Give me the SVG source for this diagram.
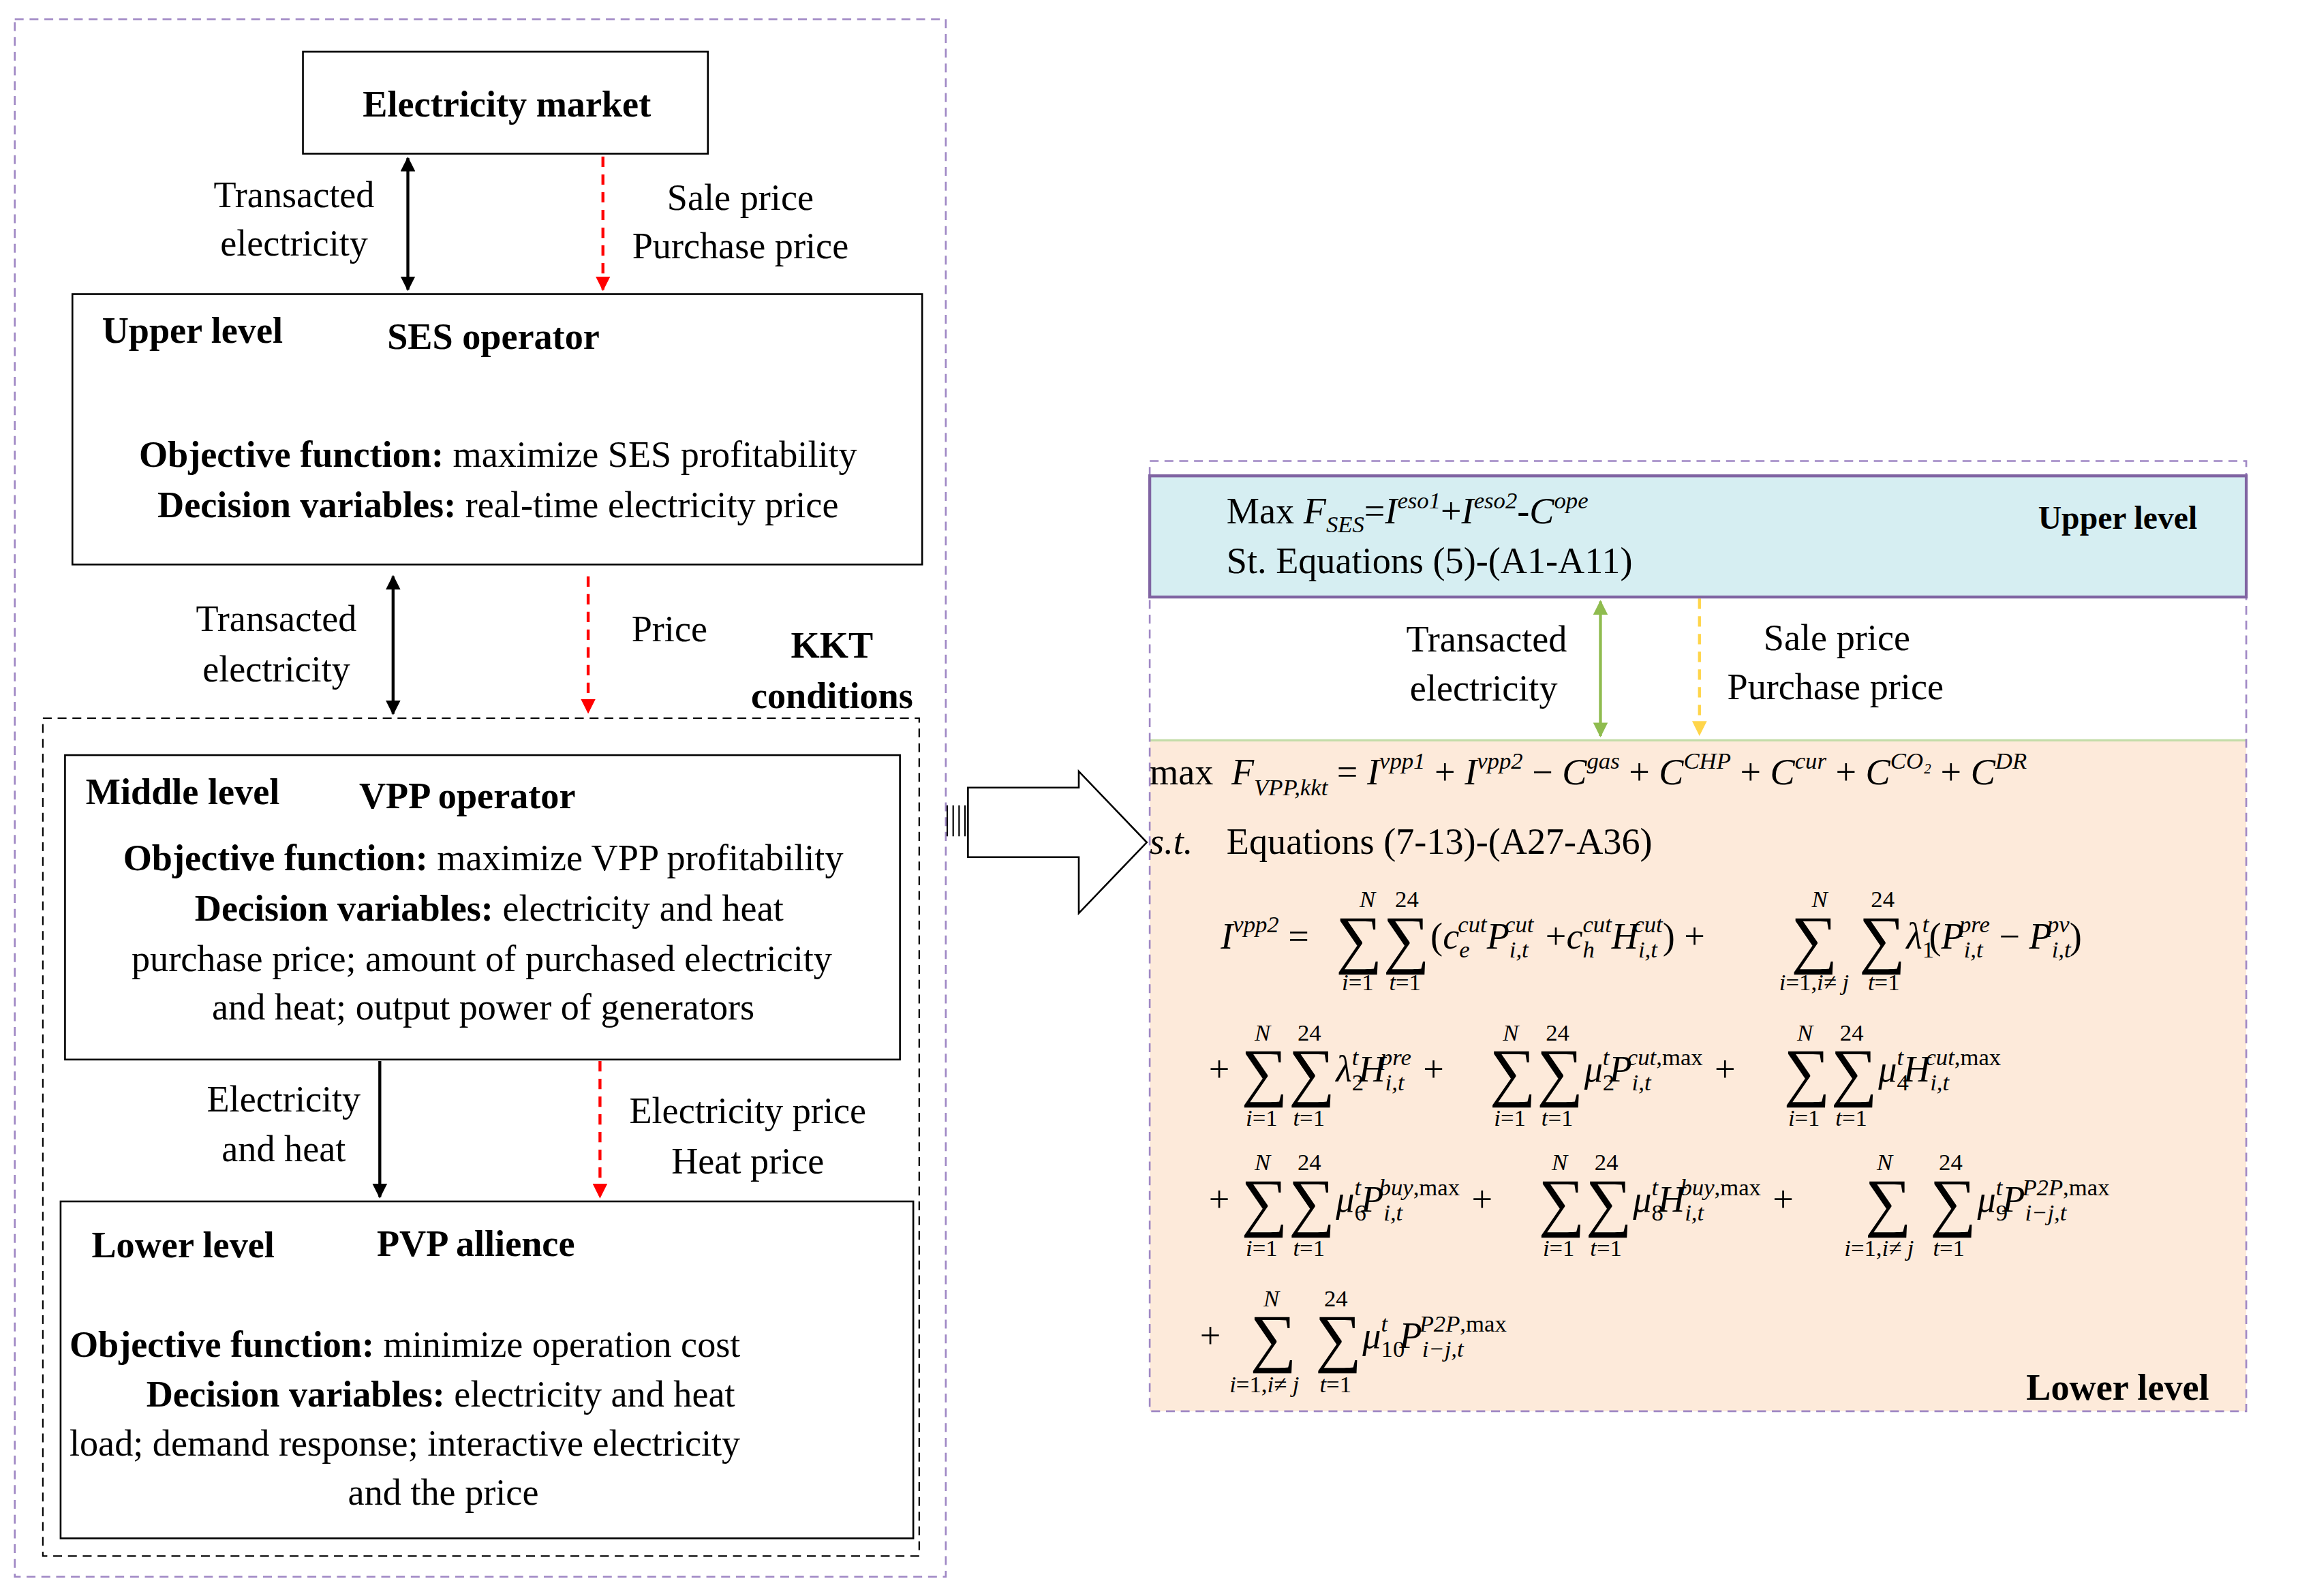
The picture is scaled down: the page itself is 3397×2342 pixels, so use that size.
<svg xmlns="http://www.w3.org/2000/svg" width="3397" height="2342" viewBox="0 0 3397 2342">
<style>
text{font-family:"Liberation Serif",serif;font-size:25px;fill:#000}
.b{font-weight:bold}
.i{font-style:italic}
.s{font-size:16px}
.S{font-size:44px}
.box{fill:#fff;stroke:#000;stroke-width:1.2}
</style>
<defs>
<marker id="ak" markerWidth="10" markerHeight="10" refX="9" refY="5" orient="auto-start-reverse" markerUnits="userSpaceOnUse" viewBox="0 0 10 10"><path d="M0,0 L10,5 L0,10 z" fill="#000"/></marker>
<marker id="ar" markerWidth="10" markerHeight="10" refX="9" refY="5" orient="auto" markerUnits="userSpaceOnUse" viewBox="0 0 10 10"><path d="M0,0 L10,5 L0,10 z" fill="#f00"/></marker>
<marker id="ag" markerWidth="10" markerHeight="10" refX="9" refY="5" orient="auto-start-reverse" markerUnits="userSpaceOnUse" viewBox="0 0 10 10"><path d="M0,0 L10,5 L0,10 z" fill="#8fbc4f"/></marker>
<marker id="ay" markerWidth="10" markerHeight="10" refX="9" refY="5" orient="auto" markerUnits="userSpaceOnUse" viewBox="0 0 10 10"><path d="M0,0 L10,5 L0,10 z" fill="#ffd54a"/></marker>
</defs>
<rect width="3397" height="2342" fill="#fff"/>
<g transform="scale(2.1685,2.1685)">
<rect x="10" y="13" width="630" height="1054" fill="none" stroke="#9f87c4" stroke-dasharray="6,4" stroke-width="1.2"/>
<rect x="29" y="486" width="593" height="567" fill="none" stroke="#000" stroke-dasharray="6,4" stroke-width="1"/>
<g id="market"><rect class="box" x="205" y="35" width="274" height="69"/><text class="b" x="343" y="79" text-anchor="middle">Electricity market</text></g>
<g id="upper"><rect class="box" x="49" y="199" width="575" height="183"/>
<text class="b" x="69" y="232">Upper level</text><text class="b" x="262" y="236">SES operator</text>
<text x="337" y="316" text-anchor="middle"><tspan class="b">Objective function:</tspan> maximize SES profitability</text>
<text x="337" y="350" text-anchor="middle"><tspan class="b">Decision variables:</tspan> real-time electricity price</text></g>
<g id="middle"><rect class="box" x="44" y="511" width="565" height="206"/>
<text class="b" x="58" y="544">Middle level</text><text class="b" x="243" y="547">VPP operator</text>
<text x="327" y="589" text-anchor="middle"><tspan class="b">Objective function:</tspan> maximize VPP profitability</text>
<text x="331" y="623" text-anchor="middle"><tspan class="b">Decision variables:</tspan> electricity and heat</text>
<text x="326" y="657" text-anchor="middle">purchase price; amount of purchased electricity</text>
<text x="327" y="690" text-anchor="middle">and heat; output power of generators</text></g>
<g id="lower"><rect class="box" x="41" y="813" width="577" height="228"/>
<text class="b" x="62" y="851">Lower level</text><text class="b" x="255" y="850">PVP allience</text>
<text x="47" y="918"><tspan class="b">Objective function:</tspan> minimize operation cost</text>
<text x="99" y="952"><tspan class="b">Decision variables:</tspan> electricity and heat</text>
<text x="47" y="985">load; demand response; interactive electricity</text>
<text x="300" y="1018" text-anchor="middle">and the price</text></g>
<g id="labels">
<text x="199" y="140" text-anchor="middle">Transacted</text><text x="199" y="173" text-anchor="middle">electricity</text>
<text x="501" y="142" text-anchor="middle">Sale price</text><text x="501" y="175" text-anchor="middle">Purchase price</text>
<text x="187" y="427" text-anchor="middle">Transacted</text><text x="187" y="461" text-anchor="middle">electricity</text>
<text x="453" y="434" text-anchor="middle">Price</text>
<text class="b" x="563" y="445" text-anchor="middle">KKT</text><text class="b" x="563" y="479" text-anchor="middle">conditions</text>
<text x="192" y="752" text-anchor="middle">Electricity</text><text x="192" y="786" text-anchor="middle">and heat</text>
<text x="506" y="760" text-anchor="middle">Electricity price</text><text x="506" y="794" text-anchor="middle">Heat price</text>
</g>
<g id="connectors" fill="none" stroke-width="2">
<line x1="276" y1="107" x2="276" y2="196" stroke="#000" marker-start="url(#ak)" marker-end="url(#ak)"/>
<line x1="408" y1="106" x2="408" y2="196" stroke="#f00" stroke-dasharray="7,5" marker-end="url(#ar)"/>
<line x1="266" y1="390" x2="266" y2="483" stroke="#000" marker-start="url(#ak)" marker-end="url(#ak)"/>
<line x1="398" y1="390" x2="398" y2="482" stroke="#f00" stroke-dasharray="7,5" marker-end="url(#ar)"/>
<line x1="257" y1="718" x2="257" y2="810" stroke="#000" marker-end="url(#ak)"/>
<line x1="406" y1="718" x2="406" y2="810" stroke="#f00" stroke-dasharray="7,5" marker-end="url(#ar)"/>
<path d="M655,533 H730 V522 L776,570 L730,618 V580 H655 Z" fill="#fff" stroke="#000" stroke-width="1.2"/>
<path d="M641,545 V566 M645,545 V566 M649,545 V566 M653,545 V566" stroke="#000" stroke-width="1"/>
<line x1="1083" y1="407" x2="1083" y2="498" stroke="#8fbc4f" marker-start="url(#ag)" marker-end="url(#ag)"/>
<line x1="1150" y1="405" x2="1150" y2="497" stroke="#ffd54a" stroke-dasharray="7,5" marker-end="url(#ay)"/>
</g>
<g id="right">
<rect x="778" y="501" width="742" height="454" fill="#fdeada" stroke="none"/>
<line x1="778" y1="501" x2="1520" y2="501" stroke="#c3dca8" stroke-width="1.5"/>
<rect x="778" y="312" width="742" height="643" fill="none" stroke="#9f87c4" stroke-dasharray="6,4" stroke-width="1.2"/>
<rect x="778" y="322" width="742" height="82" fill="#d6eef2" stroke="#8064a2" stroke-width="2"/>
<text x="830" y="354">Max <tspan class="i">F</tspan><tspan class="i s" dy="6">SES</tspan><tspan dy="-6">=</tspan><tspan class="i">I</tspan><tspan class="i s" dy="-10">eso1</tspan><tspan dy="10">+</tspan><tspan class="i">I</tspan><tspan class="i s" dy="-10">eso2</tspan><tspan dy="10">-</tspan><tspan class="i">C</tspan><tspan class="i s" dy="-10">ope</tspan></text>
<text x="830" y="388">St. Equations (5)-(A1-A11)</text>
<text class="b" x="1433" y="358" text-anchor="middle" style="font-size:22px">Upper level</text>
<text x="1006" y="441" text-anchor="middle">Transacted</text><text x="1004" y="474" text-anchor="middle">electricity</text>
<text x="1243" y="440" text-anchor="middle">Sale price</text><text x="1242" y="473" text-anchor="middle">Purchase price</text>
<text x="778" y="531">max <tspan class="i" dx="6">F</tspan><tspan class="i s" dy="7">VPP,kkt</tspan><tspan dy="-7"> = </tspan><tspan class="i">I</tspan><tspan class="i s" dy="-11">vpp1</tspan><tspan dy="11"> + </tspan><tspan class="i">I</tspan><tspan class="i s" dy="-11">vpp2</tspan><tspan dy="11"> − </tspan><tspan class="i">C</tspan><tspan class="i s" dy="-11">gas</tspan><tspan dy="11"> + </tspan><tspan class="i">C</tspan><tspan class="i s" dy="-11">CHP</tspan><tspan dy="11"> + </tspan><tspan class="i">C</tspan><tspan class="i s" dy="-11">cur</tspan><tspan dy="11"> + </tspan><tspan class="i">C</tspan><tspan class="i s" dy="-11">CO₂</tspan><tspan dy="11"> + </tspan><tspan class="i">C</tspan><tspan class="i s" dy="-11">DR</tspan></text>
<text x="778" y="578"><tspan class="i">s.t.</tspan><tspan x="830">Equations (7-13)-(A27-A36)</tspan></text>
<!-- row 1 -->
<text x="826" y="642"><tspan class="i">I</tspan><tspan class="i s" dy="-11">vpp2</tspan><tspan dy="11"> =</tspan></text>
<text class="S" x="904" y="650">∑</text><text class="S" x="936" y="650">∑</text>
<text x="968" y="642">(<tspan class="i">c</tspan><tspan class="i s" dy="6">e</tspan><tspan class="i s" dx="-8" dy="-17">cut</tspan><tspan class="i" dy="11">P</tspan><tspan class="i s" dy="6">i,t</tspan><tspan class="i s" dx="-16" dy="-17">cut</tspan><tspan dx="8" dy="11">+</tspan><tspan class="i">c</tspan><tspan class="i s" dy="6">h</tspan><tspan class="i s" dx="-8" dy="-17">cut</tspan><tspan class="i" dy="11">H</tspan><tspan class="i s" dy="6">i,t</tspan><tspan class="i s" dx="-16" dy="-17">cut</tspan><tspan dy="11">) +</tspan></text>
<text class="S" x="1212" y="650">∑</text><text class="S" x="1258" y="650">∑</text>
<text x="1290" y="642"><tspan class="i">λ</tspan><tspan class="s" dy="6">1</tspan><tspan class="i s" dx="-8" dy="-17">t</tspan><tspan dy="11">(</tspan><tspan class="i">P</tspan><tspan class="i s" dy="6">i,t</tspan><tspan class="i s" dx="-16" dy="-17">pre</tspan><tspan dy="11"> − </tspan><tspan class="i">P</tspan><tspan class="i s" dy="6">i,t</tspan><tspan class="i s" dx="-16" dy="-17">pv</tspan><tspan dy="11">)</tspan></text>
<text class="i s" x="920" y="614">N</text><text class="s" x="944" y="614">24</text><text class="i s" x="908" y="670">i<tspan font-style="normal">=1</tspan></text><text class="i s" x="940" y="670">t<tspan font-style="normal">=1</tspan></text>
<text class="i s" x="1226" y="614">N</text><text class="s" x="1266" y="614">24</text><text class="i s" x="1204" y="670">i<tspan font-style="normal">=1,</tspan>i≠ j</text><text class="i s" x="1264" y="670">t<tspan font-style="normal">=1</tspan></text>
<!-- row 2 -->
<text x="818" y="732">+</text>
<text class="S" x="840" y="740">∑</text><text class="S" x="872" y="740">∑</text>
<text x="904" y="732"><tspan class="i">λ</tspan><tspan class="s" dy="6">2</tspan><tspan class="i s" dx="-8" dy="-17">t</tspan><tspan class="i" dy="11">H</tspan><tspan class="i s" dy="6">i,t</tspan><tspan class="i s" dx="-16" dy="-17">pre</tspan><tspan dx="8" dy="11">+</tspan></text>
<text class="S" x="1008" y="740">∑</text><text class="S" x="1040" y="740">∑</text>
<text x="1072" y="732"><tspan class="i">μ</tspan><tspan class="s" dy="6">2</tspan><tspan class="i s" dx="-8" dy="-17">t</tspan><tspan class="i" dy="11">P</tspan><tspan class="i s" dy="6">i,t</tspan><tspan class="s" dx="-16" dy="-17"><tspan class="i">cut</tspan>,max</tspan><tspan dx="8" dy="11">+</tspan></text>
<text class="S" x="1207" y="740">∑</text><text class="S" x="1239" y="740">∑</text>
<text x="1271" y="732"><tspan class="i">μ</tspan><tspan class="s" dy="6">4</tspan><tspan class="i s" dx="-8" dy="-17">t</tspan><tspan class="i" dy="11">H</tspan><tspan class="i s" dy="6">i,t</tspan><tspan class="s" dx="-16" dy="-17"><tspan class="i">cut</tspan>,max</tspan></text>
<text class="i s" x="849" y="704">N</text><text class="s" x="878" y="704">24</text><text class="i s" x="843" y="762">i<tspan font-style="normal">=1</tspan></text><text class="i s" x="875" y="762">t<tspan font-style="normal">=1</tspan></text>
<text class="i s" x="1017" y="704">N</text><text class="s" x="1046" y="704">24</text><text class="i s" x="1011" y="762">i<tspan font-style="normal">=1</tspan></text><text class="i s" x="1043" y="762">t<tspan font-style="normal">=1</tspan></text>
<text class="i s" x="1216" y="704">N</text><text class="s" x="1245" y="704">24</text><text class="i s" x="1210" y="762">i<tspan font-style="normal">=1</tspan></text><text class="i s" x="1242" y="762">t<tspan font-style="normal">=1</tspan></text>
<!-- row 3 -->
<text x="818" y="820">+</text>
<text class="S" x="840" y="828">∑</text><text class="S" x="872" y="828">∑</text>
<text x="904" y="820"><tspan class="i">μ</tspan><tspan class="s" dy="6">6</tspan><tspan class="i s" dx="-8" dy="-17">t</tspan><tspan class="i" dy="11">P</tspan><tspan class="i s" dy="6">i,t</tspan><tspan class="s" dx="-16" dy="-17"><tspan class="i">buy</tspan>,max</tspan><tspan dx="8" dy="11">+</tspan></text>
<text class="S" x="1041" y="828">∑</text><text class="S" x="1073" y="828">∑</text>
<text x="1105" y="820"><tspan class="i">μ</tspan><tspan class="s" dy="6">8</tspan><tspan class="i s" dx="-8" dy="-17">t</tspan><tspan class="i" dy="11">H</tspan><tspan class="i s" dy="6">i,t</tspan><tspan class="s" dx="-16" dy="-17"><tspan class="i">buy</tspan>,max</tspan><tspan dx="8" dy="11">+</tspan></text>
<text class="S" x="1262" y="828">∑</text><text class="S" x="1306" y="828">∑</text>
<text x="1338" y="820"><tspan class="i">μ</tspan><tspan class="s" dy="6">9</tspan><tspan class="i s" dx="-8" dy="-17">t</tspan><tspan class="i" dy="11">P</tspan><tspan class="i s" dy="6">i−j,t</tspan><tspan class="s" dx="-30" dy="-17"><tspan class="i">P2P</tspan>,max</tspan></text>
<text class="i s" x="849" y="792">N</text><text class="s" x="878" y="792">24</text><text class="i s" x="843" y="850">i<tspan font-style="normal">=1</tspan></text><text class="i s" x="875" y="850">t<tspan font-style="normal">=1</tspan></text>
<text class="i s" x="1050" y="792">N</text><text class="s" x="1079" y="792">24</text><text class="i s" x="1044" y="850">i<tspan font-style="normal">=1</tspan></text><text class="i s" x="1076" y="850">t<tspan font-style="normal">=1</tspan></text>
<text class="i s" x="1270" y="792">N</text><text class="s" x="1312" y="792">24</text><text class="i s" x="1248" y="850">i<tspan font-style="normal">=1,</tspan>i≠ j</text><text class="i s" x="1308" y="850">t<tspan font-style="normal">=1</tspan></text>
<!-- row 4 -->
<text x="812" y="912">+</text>
<text class="S" x="846" y="920">∑</text><text class="S" x="890" y="920">∑</text>
<text x="922" y="912"><tspan class="i">μ</tspan><tspan class="s" dy="6">10</tspan><tspan class="i s" dx="-16" dy="-17">t</tspan><tspan class="i" dx="8" dy="11">P</tspan><tspan class="i s" dy="6">i−j,t</tspan><tspan class="s" dx="-30" dy="-17"><tspan class="i">P2P</tspan>,max</tspan></text>
<text class="i s" x="855" y="884">N</text><text class="s" x="896" y="884">24</text><text class="i s" x="832" y="942">i<tspan font-style="normal">=1,</tspan>i≠ j</text><text class="i s" x="893" y="942">t<tspan font-style="normal">=1</tspan></text>
<text class="b" x="1433" y="947" text-anchor="middle">Lower level</text>
</g>
</g>
</svg>
